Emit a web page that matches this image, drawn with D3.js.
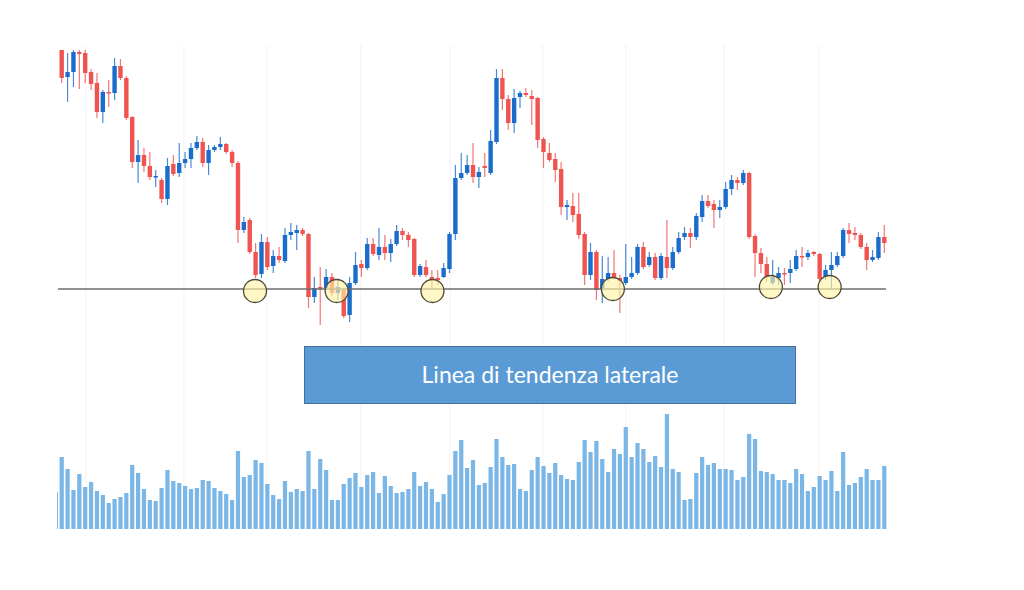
<!DOCTYPE html>
<html>
<head>
<meta charset="utf-8">
<script src="https://cdn.jsdelivr.net/npm/d3@7"></script>
<style>
  body { margin: 0; background: #fff; }
  svg { display: block; }
</style>
</head>
<body>
<svg width="1024" height="590"></svg>
<script>
// candle values (arbitrary price units)
var opens = [350,323,328,348,347,328,317,288,308,307,334,322,283,238,245,234,223,220,201,236,
  227,237,241,252,258,237,250,253,256,248,237,170,180,148,126,158,134,144,139,165,
  167,170,166,103,113,112,123,107,110,85,117,136,132,156,145,153,147,156,169,165,
  161,125,133,123,122,123,131,166,222,227,235,223,234,227,258,322,301,277,303,307,
  304,302,261,247,241,231,193,194,186,166,125,148,111,121,127,122,117,123,127,153,
  135,143,122,143,132,148,163,167,163,183,199,196,190,193,211,220,217,227,164,147,
  136,117,122,127,127,131,144,143,148,146,123,130,135,144,170,167,165,153,140,142,163];
var highs = [352,347,352,350,350,331,327,310,320,342,341,324,284,260,252,248,230,222,242,245,
  257,248,257,264,262,255,255,263,257,250,239,183,182,157,166,163,150,153,172,177,
  175,172,167,123,133,131,127,120,112,123,148,140,162,162,172,165,161,175,172,168,
  162,136,140,130,130,137,168,235,247,245,257,233,247,270,331,331,305,311,309,312,
  310,303,263,257,247,238,200,207,207,168,157,150,144,143,150,125,156,143,156,158,
  148,147,147,180,153,168,173,172,187,205,205,200,200,218,225,223,230,228,166,152,
  143,140,133,132,140,150,153,150,149,147,135,148,148,172,177,173,167,157,150,168,175];
var lows = [317,298,313,311,317,310,282,277,293,300,320,280,232,217,228,220,213,197,195,224,
  223,232,232,250,233,225,248,250,246,233,157,167,146,122,122,130,127,137,137,160,
  150,164,92,97,75,110,104,100,82,78,115,123,130,144,140,140,138,154,160,153,
  123,123,123,112,115,122,127,160,220,225,217,212,223,225,256,290,270,267,292,303,
  275,252,232,238,218,185,180,178,161,115,120,100,97,119,121,87,115,121,125,131,
  133,120,120,122,130,146,160,152,160,178,192,172,182,191,205,210,215,161,123,127,
  118,115,115,115,117,129,133,140,144,118,120,110,133,142,157,160,151,130,138,140,147];
var closes = [322,328,348,346,327,316,288,308,307,334,322,282,238,245,234,223,224,201,234,226,
  237,241,252,258,237,250,253,256,248,237,170,178,148,125,158,133,144,140,165,168,
  170,166,103,112,111,123,107,113,84,117,135,132,156,146,153,147,156,169,165,160,
  125,134,125,120,120,132,166,222,227,235,223,228,232,259,322,301,277,302,307,305,
  301,260,248,240,230,193,195,185,165,125,148,110,121,127,123,119,123,127,153,133,
  143,122,144,132,148,162,167,163,184,199,194,190,193,211,220,217,227,163,147,136,
  123,123,127,126,131,144,143,147,146,121,130,135,144,170,166,165,153,140,143,163,157];

// volume, first bar is the one cut by the left edge
var volumes = [37,72,60,39,55,42,47,38,34,26,30,32,36,64,56,40,29,28,41,59,
  48,46,43,40,41,49,48,41,38,35,29,78,52,54,69,66,45,34,30,48,
  37,40,38,78,40,70,59,29,29,45,51,56,42,54,57,36,53,43,36,37,
  40,57,43,47,40,27,35,54,78,89,61,69,44,46,62,90,72,64,65,40,
  38,59,72,63,56,66,54,50,49,67,89,77,88,70,57,80,75,102,72,86,
  80,67,73,62,115,60,57,29,30,56,72,64,66,60,60,59,49,52,95,90,
  58,57,55,49,49,46,60,55,38,42,53,49,58,38,77,44,46,52,60,49,49,63];

var supportLevel = 111;
var touchIdx = [32.9, 46.8, 63.1, 93.8, 120.7, 130.7];
var touchPrice = [109, 109, 109, 111, 113, 113];
var gridIdx = [4.1, 20.8, 34.9, 50.9, 66.1, 81.9, 96, 112.7, 128.9];
var label = "Linea di tendenza laterale";

var svg = d3.select("svg");

var scaleX = d3.scaleLinear()
  .domain([0, 140])
  .range([61.7, 884.3]);
var scaleY = d3.scaleLinear()
  .domain([80, 350])
  .range([320, 50]);
var scaleVol = d3.scaleLinear()
  .domain([0, 120])
  .range([529, 409]);

var upColor = "#1a6dcc";
var downColor = "#ef5450";

svg.append("defs").append("clipPath")
    .attr("id", "clip")
  .append("rect")
    .attr("x", 57)
    .attr("y", 50)
    .attr("width", 832)
    .attr("height", 490);

// faint vertical grid
svg.append("g")
  .selectAll("line")
  .data(gridIdx)
  .enter().append("line")
    .attr("x1", function(d) { return scaleX(d); })
    .attr("x2", function(d) { return scaleX(d); })
    .attr("y1", 45)
    .attr("y2", 530)
    .attr("stroke", "#f3f3f3")
    .attr("stroke-width", 1);

var plot = svg.append("g")
  .attr("clip-path", "url(#clip)");

// volume bars
plot.append("g")
  .selectAll("rect")
  .data(volumes)
  .enter().append("rect")
    .attr("x", function(d, i) { return scaleX(i - 1) - 2.1; })
    .attr("y", function(d) { return scaleVol(d); })
    .attr("width", 4.2)
    .attr("height", function(d) { return scaleVol(0) - scaleVol(d); })
    .attr("fill", "#7ab6e6");

var candles = opens.map(function(o, i) {
  return { i: i, open: o, high: highs[i], low: lows[i], close: closes[i] };
});

var candleG = plot.append("g")
  .selectAll("g")
  .data(candles)
  .enter().append("g");

candleG.append("line")
  .attr("x1", function(d) { return scaleX(d.i); })
  .attr("x2", function(d) { return scaleX(d.i); })
  .attr("y1", function(d) { return scaleY(d.high); })
  .attr("y2", function(d) { return scaleY(d.low); })
  .attr("stroke", function(d) { return d.close >= d.open ? upColor : downColor; })
  .attr("stroke-opacity", 0.8)
  .attr("stroke-width", 1.2);

candleG.append("rect")
  .attr("x", function(d) { return scaleX(d.i) - 2.2; })
  .attr("y", function(d) { return scaleY(Math.max(d.open, d.close)); })
  .attr("width", 4.4)
  .attr("height", function(d) {
    return Math.max(1.5, Math.abs(scaleY(d.open) - scaleY(d.close)));
  })
  .attr("fill", function(d) { return d.close >= d.open ? upColor : downColor; });

// support line
svg.append("line")
  .attr("x1", 58)
  .attr("x2", 886)
  .attr("y1", scaleY(supportLevel))
  .attr("y2", scaleY(supportLevel))
  .attr("stroke", "#6e6e6e")
  .attr("stroke-width", 1.5);

// touch points
svg.append("g")
  .selectAll("circle")
  .data(touchIdx)
  .enter().append("circle")
    .attr("cx", function(d) { return scaleX(d); })
    .attr("cy", function(d, i) { return scaleY(touchPrice[i]); })
    .attr("r", 11.5)
    .attr("fill", "#fff3a6")
    .attr("fill-opacity", 0.65)
    .attr("stroke", "#4d4a35")
    .attr("stroke-width", 1.3);

// label box
svg.append("rect")
  .attr("x", 304.5)
  .attr("y", 346.5)
  .attr("width", 491)
  .attr("height", 57)
  .attr("fill", "#5b9bd5")
  .attr("stroke", "#41719c")
  .attr("stroke-width", 1);

svg.append("text")
  .attr("x", 550)
  .attr("y", 383)
  .attr("text-anchor", "middle")
  .attr("fill", "#ffffff")
  .style("font-family", "Lato, 'Open Sans', sans-serif")
  .style("font-size", "23px")
  .text(label);
</script>
</body>
</html>
